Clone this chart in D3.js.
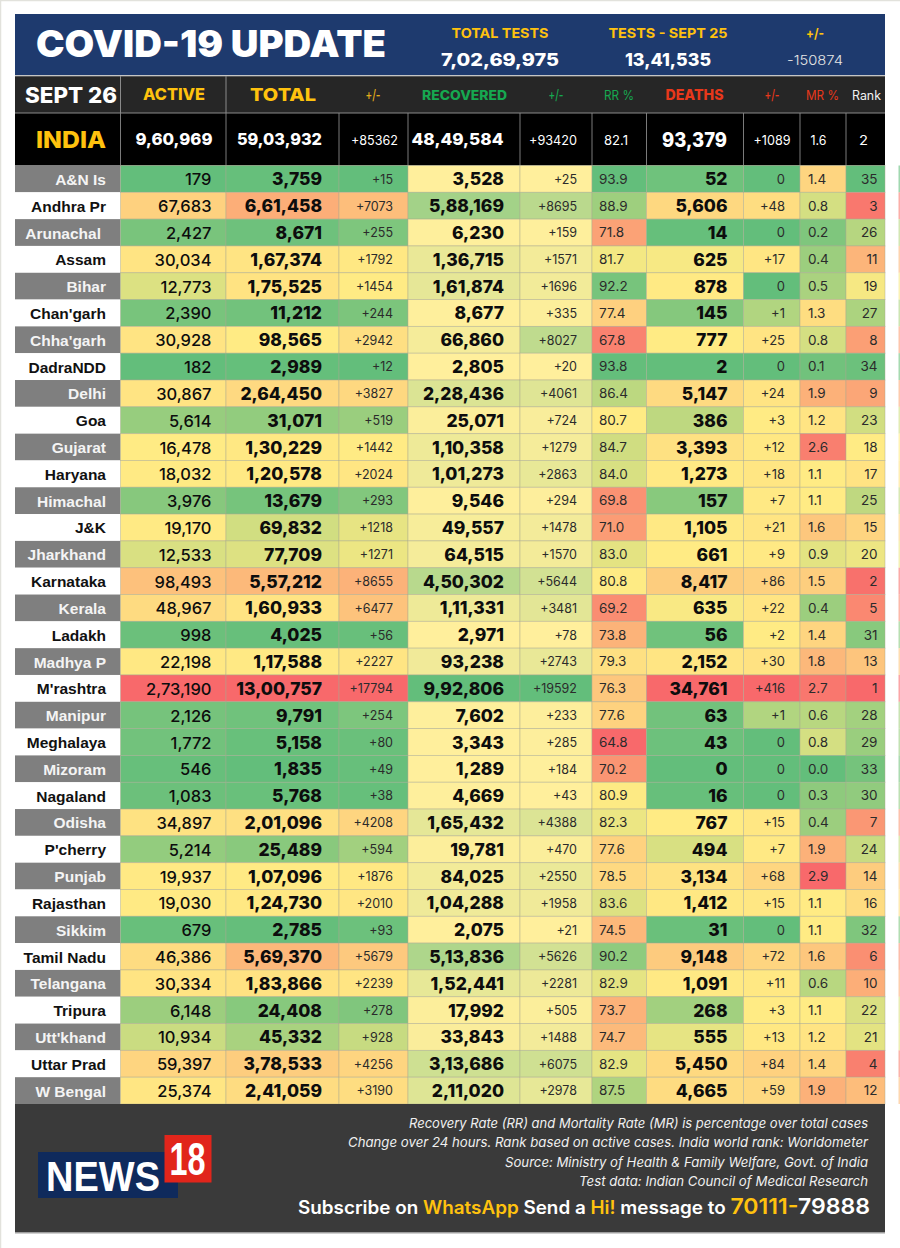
<!DOCTYPE html>
<html><head><meta charset="utf-8">
<script src="https://cdn.jsdelivr.net/npm/d3@7"></script>
<style>html,body{margin:0;padding:0;background:#fff}svg{display:block}text{font-family:Inter,"Noto Sans",sans-serif}</style>
</head><body><div id="chart"></div>
<script>
const states=["A&N Is","Andhra Pr","Arunachal","Assam","Bihar","Chan'garh","Chha'garh","DadraNDD","Delhi","Goa","Gujarat","Haryana","Himachal","J&K","Jharkhand","Karnataka","Kerala","Ladakh","Madhya P","M'rashtra","Manipur","Meghalaya","Mizoram","Nagaland","Odisha","P'cherry","Punjab","Rajasthan","Sikkim","Tamil Nadu","Telangana","Tripura","Utt'khand","Uttar Prad","W Bengal"];
const active=[179,67683,2427,30034,12773,2390,30928,182,30867,5614,16478,18032,3976,19170,12533,98493,48967,998,22198,273190,2126,1772,546,1083,34897,5214,19937,19030,679,46386,30334,6148,10934,59397,25374];
const total=[3759,661458,8671,167374,175525,11212,98565,2989,264450,31071,130229,120578,13679,69832,77709,557212,160933,4025,117588,1300757,9791,5158,1835,5768,201096,25489,107096,124730,2785,569370,183866,24408,45332,378533,241059];
const totalChange=[15,7073,255,1792,1454,244,2942,12,3827,519,1442,2024,293,1218,1271,8655,6477,56,2227,17794,254,80,49,38,4208,594,1876,2010,93,5679,2239,278,928,4256,3190];
const recovered=[3528,588169,6230,136715,161874,8677,66860,2805,228436,25071,110358,101273,9546,49557,64515,450302,111331,2971,93238,992806,7602,3343,1289,4669,165432,19781,84025,104288,2075,513836,152441,17992,33843,313686,211020];
const recoveredChange=[25,8695,159,1571,1696,335,8027,20,4061,724,1279,2863,294,1478,1570,5644,3481,78,2743,19592,233,285,184,43,4388,470,2550,1958,21,5626,2281,505,1488,6075,2978];
const recoveryRate=[93.9,88.9,71.8,81.7,92.2,77.4,67.8,93.8,86.4,80.7,84.7,84.0,69.8,71.0,83.0,80.8,69.2,73.8,79.3,76.3,77.6,64.8,70.2,80.9,82.3,77.6,78.5,83.6,74.5,90.2,82.9,73.7,74.7,82.9,87.5];
const deaths=[52,5606,14,625,878,145,777,2,5147,386,3393,1273,157,1105,661,8417,635,56,2152,34761,63,43,0,16,767,494,3134,1412,31,9148,1091,268,555,5450,4665];
const deathChange=[0,48,0,17,0,1,25,0,24,3,12,18,7,21,9,86,22,2,30,416,1,0,0,0,15,7,68,15,0,72,11,3,13,84,59];
const mortalityRate=[1.4,0.8,0.2,0.4,0.5,1.3,0.8,0.1,1.9,1.2,2.6,1.1,1.1,1.6,0.9,1.5,0.4,1.4,1.8,2.7,0.6,0.8,0.0,0.3,0.4,1.9,2.9,1.1,1.1,1.6,0.6,1.1,1.2,1.4,1.9];
const rank=[35,3,26,11,19,27,8,34,9,23,18,17,25,15,20,2,5,31,13,1,28,29,33,30,7,24,14,16,32,6,10,22,21,4,12];
const headers=["ACTIVE","TOTAL","+/-","RECOVERED","+/-","RR %","DEATHS","+/-","MR %","Rank"];
const indiaValues=[960969,5903932,85362,4849584,93420,82.1,93379,1089,1.6,2];
const testLabels=["TOTAL TESTS","TESTS - SEPT 25","+/-"];
const testValues=[70269975,1341535,-150874];
const notes=["Recovery Rate (RR) and Mortality Rate (MR) is percentage over total cases","Change over 24 hours. Rank based on active cases. India world rank: Worldometer","Source: Ministry of Health & Family Welfare, Govt. of India","Test data: Indian Council of Medical Research"];

const W=900,H=1248;
const GREEN="#63BE7B",YEL="#FFEB84",RED="#F8696B",PALE="#FFEF9C";
const edges=[15,120.5,226,339,408,520,592,646.5,743.5,800,846,885];
const inr=n=>new Intl.NumberFormat("en-IN").format(n);
const plus=n=>n===0?"0":"+"+n;
const dec=n=>n.toFixed(1);
const three=(v,mid)=>d3.scaleLinear().domain([d3.min(v),mid??d3.median(v),d3.max(v)]).range([GREEN,YEL,RED]);
const rev=(v)=>d3.scaleLinear().domain([d3.min(v),d3.median(v),d3.max(v)]).range([RED,YEL,GREEN]);
const two=(v)=>d3.scaleLinear().domain([d3.min(v),d3.max(v)]).range([PALE,GREEN]);
const cols=[
 {v:active,fmt:inr,c:three(active),size:16.5,big:1,w:500,ax:211.5,la:"end",h:headers[0],hc:"#FFC20E",hs:16,hw:800,hx:174,hl:62},
 {v:total,fmt:inr,c:three(total),size:17.5,big:1,w:800,ax:322,la:"end",h:headers[1],hc:"#FFC20E",hs:18,hw:800,hx:283,hl:66},
 {v:totalChange,fmt:plus,c:three(totalChange),size:12.5,w:400,ax:393,la:"end",h:headers[2],hc:"#E3AE1B",hs:14,hw:500,hx:373,hl:15},
 {v:recovered,fmt:inr,c:two(recovered),size:17.5,big:1,w:800,ax:504,la:"end",h:headers[3],hc:"#16A850",hs:13,hw:800,hx:464.5,hl:85},
 {v:recoveredChange,fmt:plus,c:two(recoveredChange),size:12.5,w:400,ax:577,la:"end",h:headers[4],hc:"#16A850",hs:14,hw:500,hx:556,hl:15},
 {v:recoveryRate,fmt:dec,c:rev(recoveryRate),size:13.5,w:400,ax:599,la:"start",h:headers[5],hc:"#16A850",hs:13.5,hw:400,hx:619,hl:30},
 {v:deaths,fmt:inr,c:three(deaths),size:17.5,big:1,w:800,ax:727.5,la:"end",h:headers[6],hc:"#E8381B",hs:14.5,hw:800,hx:694.5,hl:58},
 {v:deathChange,fmt:plus,c:three(deathChange,2),size:13,w:400,ax:785,la:"end",h:headers[7],hc:"#E8381B",hs:14,hw:500,hx:772,hl:15},
 {v:mortalityRate,fmt:dec,c:three(mortalityRate),size:13.5,w:400,ax:808,la:"start",h:headers[8],hc:"#E8381B",hs:13.5,hw:400,hx:822.5,hl:33},
 {v:rank,fmt:String,c:rev(rank),size:13.5,w:400,ax:877.5,la:"end",h:headers[9],hc:"#F2F2F2",hs:12.5,hw:400,hx:866.5,hl:29}
];
const indiaPos=[{x:174,a:"middle",l:77},{x:322,a:"end",l:85},{x:398,a:"end",l:47},{x:503.5,a:"end",l:92},{x:577,a:"end",l:48},{x:616,a:"middle",l:24},{x:694.5,a:"middle",l:65},{x:772,a:"middle",l:37},{x:818.5,a:"middle",l:16},{x:863.5,a:"middle",l:9}];

const svg=d3.select("#chart").append("svg").attr("width",W).attr("height",H).attr("viewBox",`0 0 ${W} ${H}`);
const y=d3.scaleBand().domain(states).range([165.5,1104]);
const label=(g,o)=>{const t=g.append("text").attr("x",o.x).attr("y",o.y).attr("text-anchor",o.a||"middle").attr("font-size",o.s).attr("font-weight",o.w||700).attr("fill",o.f||"#fff").text(o.t);
 if(o.ff)t.style("font-family",o.ff); if(o.l)t.attr("textLength",o.l).attr("lengthAdjust","spacingAndGlyphs"); if(o.i)t.attr("font-style","italic"); return t;};

svg.append("rect").attr("width",W).attr("height",H).attr("fill","#fff");
svg.append("path").attr("d",`M0 ${H} V0 H${W}`).attr("fill","none").attr("stroke","#E2E2DC").attr("stroke-width",2.5);

// banner
const ban=svg.append("g");
ban.append("rect").attr("x",15).attr("y",14).attr("width",870).attr("height",61).attr("fill","#1E3A6E");
label(ban,{x:36,y:57,a:"start",s:37,w:900,t:"COVID-19 UPDATE",l:350});
const tx=[500,668,815],tl=[97,119,18],vl=[118,86,0];
testLabels.forEach((t,i)=>label(ban,{x:tx[i],y:38,s:13.5,w:700,f:"#FFC20E",t,l:tl[i]}));
testValues.forEach((v,i)=>{ if(i<2) label(ban,{x:tx[i],y:66,s:17.5,w:800,t:inr(v),l:vl[i]}); else label(ban,{x:tx[i],y:65,s:13.5,w:300,f:"#E6E6E6",t:String(v),l:56});});

// header row
const hd=svg.append("g");
hd.append("rect").attr("x",15).attr("y",76).attr("width",870).attr("height",37).attr("fill","#262626");
label(hd,{x:71,y:102.5,s:21,w:800,t:"SEPT 26",l:92});
cols.forEach(c=>{label(hd,{x:c.hx,y:c.h==="TOTAL"?101:100,s:c.hs,w:c.hw,f:c.hc,t:c.h,l:c.hl});});
[120.5,226].forEach(x=>hd.append("line").attr("x1",x).attr("x2",x).attr("y1",76).attr("y2",113).attr("stroke","#8A8A8A"));

// india row
const ind=svg.append("g");
ind.append("rect").attr("x",15).attr("y",113).attr("width",870).attr("height",52.5).attr("fill","#000");
label(ind,{x:71,y:148,s:23,w:800,f:"#FFC20E",t:"INDIA",l:70});
indiaValues.forEach((v,i)=>{const f=cols[i].fmt,big=cols[i].big;
 label(ind,{x:indiaPos[i].x,y:big?(i===6?147:145):144.5,a:indiaPos[i].a,s:i===6?20:big?16.5:13,w:big?800:400,t:f(v),l:indiaPos[i].l});});
edges.slice(1,-1).forEach(x=>ind.append("line").attr("x1",x).attr("x2",x).attr("y1",113).attr("y2",165).attr("stroke","#7A7A7A"));
[76,113].forEach(yy=>svg.append("line").attr("x1",15).attr("x2",885).attr("y1",yy).attr("y2",yy).attr("stroke","#8A8A8A"));

// state labels
const rows=svg.append("g").selectAll("g").data(states).join("g").attr("transform",d=>`translate(0,${y(d)})`);
rows.append("rect").attr("x",15).attr("width",edges[1]-15).attr("height",y.bandwidth()).attr("fill",(d,i)=>i%2?"#fff":"#7F7F7F");
rows.append("text").attr("x",d=>d==="Arunachal"?101:106).attr("y",y.bandwidth()/2+6).attr("text-anchor","end")
  .attr("font-size",15.5).attr("font-weight",700).attr("fill",(d,i)=>i%2?"#111":"#F4F4F4").style("font-family","Liberation Sans").text(d=>d);

// cells
cols.forEach((c,k)=>{
  const g=svg.append("g");
  g.selectAll("rect").data(c.v).join("rect").attr("x",edges[k+1]).attr("y",(d,i)=>y(states[i])).attr("width",edges[k+2]-edges[k+1]).attr("height",y.bandwidth())
    .attr("fill",d=>c.c(d)).attr("stroke","#A8A890").attr("stroke-opacity",.55).attr("stroke-width",.8);
  g.selectAll("text").data(c.v).join("text").attr("x",c.ax).attr("y",(d,i)=>y(states[i])+y.bandwidth()/2+(c.big?6.5:4.8))
    .attr("text-anchor",c.la).attr("font-size",c.size).attr("font-weight",c.w).attr("fill",c.big?"#0d0d0d":"#2b2b2b").text(d=>c.fmt(d));
});
// faint echo of rank colours at the page's right edge
svg.append("g").selectAll("rect").data(rank).join("rect").attr("x",898.5).attr("y",(d,i)=>y(states[i])).attr("width",1.5).attr("height",y.bandwidth()).attr("fill",d=>cols[9].c(d)).attr("opacity",.6);

// footer
const ft=svg.append("g");
ft.append("rect").attr("x",15).attr("y",1104).attr("width",870).attr("height",128.5).attr("fill","#3A3A3A");
ft.append("line").attr("x1",15).attr("x2",885).attr("y1",1233).attr("y2",1233).attr("stroke","#A0A0A0");
const nl=[459,520,363,289],ny=[1128,1147,1167,1186];
notes.forEach((t,i)=>label(ft,{x:868,y:ny[i],a:"end",s:13.5,w:400,f:"#F0F0F0",t,l:nl[i],i:true}));
const sub=ft.append("text").attr("x",870).attr("y",1214).attr("text-anchor","end").attr("font-size",18).attr("font-weight",600).attr("fill","#fff").attr("textLength",572).attr("lengthAdjust","spacingAndGlyphs");
[["Subscribe on ","#fff",18],["WhatsApp","#FFC20E",18],[" Send a ","#fff",18],["Hi!","#FFC20E",18],[" message to ","#fff",18],["70111-","#FFC20E",22],["79888","#fff",22]].forEach(s=>sub.append("tspan").attr("fill",s[1]).attr("font-size",s[2]).attr("xml:space","preserve").text(s[0]));
// logo
ft.append("rect").attr("x",38).attr("y",1152).attr("width",140).attr("height",46).attr("fill","#0F2A5C");
ft.append("rect").attr("x",164.5).attr("y",1135).attr("width",47).attr("height",47.5).attr("fill","#E1251B");
label(ft,{x:46,y:1191,a:"start",s:42,w:700,t:"NEWS",ff:"Liberation Sans",l:114});
label(ft,{x:187.5,y:1175,s:46,w:700,t:"18",ff:"Liberation Sans",l:36});
</script></body></html>
